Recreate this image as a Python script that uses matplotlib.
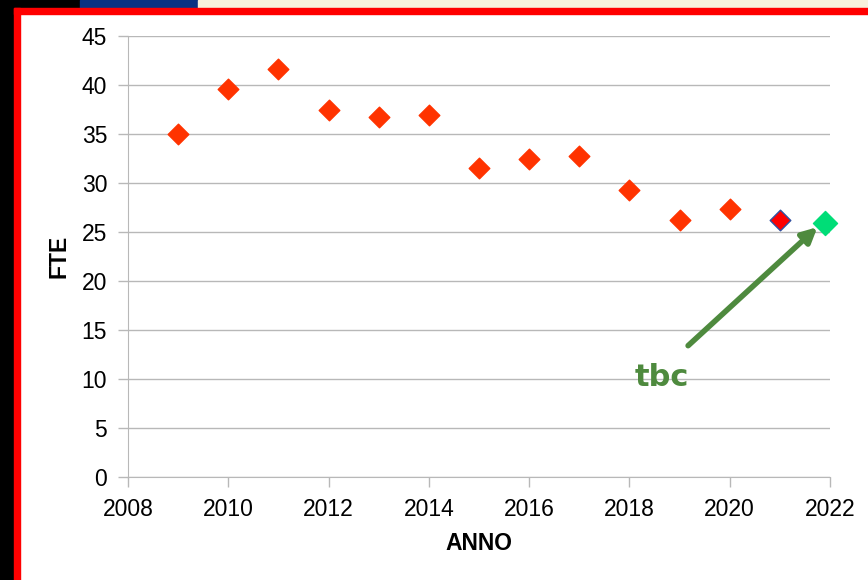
import matplotlib.pyplot as plt
from matplotlib.patches import Rectangle

# Data
years = [2009, 2010, 2011, 2012, 2013, 2014, 2015, 2016, 2017, 2018, 2019, 2020]
fte = [35.0, 39.6, 41.6, 37.4, 36.7, 36.9, 31.5, 32.4, 32.8, 29.3, 26.2, 27.3]
year_2021 = [2021]
fte_2021 = [26.2]
year_tbc = [2021.9]
fte_tbc = [25.9]
xticks = list(range(2008, 2023, 2))
yticks = list(range(0, 46, 5))

plt.rcParams['font.family'] = ['Liberation Sans', 'DejaVu Sans']

fig = plt.figure(figsize=(8.68, 5.80), dpi=100)
fig.patch.set_facecolor('white')

# Slide frame around the chart
W, H = 868, 580
def frame(x, y, w, h, color):
    fig.patches.append(Rectangle((x / W, 1 - (y + h) / H), w / W, h / H,
                                 transform=fig.transFigure, color=color, zorder=0))
frame(0, 0, 14, H, 'black')
frame(0, 0, 80, 8, 'black')
frame(80, 0, 118, 8, '#0a3282')
frame(198, 0, 670, 8, '#f8f1dc')
frame(14, 8, 854, 6, '#ff0000')
frame(14, 8, 6, H - 8, '#ff0000')

ax = fig.add_axes([128 / W, 1 - 477 / H, (830 - 128) / W, (477 - 36) / H])
ax.set_facecolor('white')

ax.scatter(years, fte, marker='D', s=110, color='#ff3300', edgecolors='#ff3300',
           zorder=3)
ax.scatter(year_2021, fte_2021, marker='D', s=110, color='#ff0000',
           edgecolors='#3050a0', linewidths=1, zorder=3)
ax.scatter(year_tbc, fte_tbc, marker='D', s=150, color='#00dd77', zorder=4,
           clip_on=False)

ax.annotate('', xy=(2021.75, 25.5), xytext=(2019.17, 13.4),
            arrowprops=dict(arrowstyle='-|>', color='#4e8a3e', lw=4,
                            mutation_scale=22, shrinkA=0, shrinkB=0), zorder=5)
ax.text(2018.65, 10.2, 'tbc', color='#4e8a3e', fontsize=22, fontweight='bold',
        family=['DejaVu Sans'], ha='center', va='center', zorder=5)

ax.set_xlim(2008, 2022)
ax.set_ylim(0, 45)
ax.set_xticks(xticks)
ax.set_yticks(yticks)
ax.grid(axis='y', color='#b8b8b8', lw=1)
ax.set_axisbelow(True)
for s in ['top', 'right']:
    ax.spines[s].set_visible(False)
for s in ['left', 'bottom']:
    ax.spines[s].set_color('#b8b8b8')
ax.tick_params(axis='both', colors='#b8b8b8', labelcolor='black', labelsize=16.5,
               length=7, width=1)
ax.tick_params(axis='x', pad=8)
ax.tick_params(axis='y', pad=8)

ax.set_xlabel('ANNO', fontsize=16.5, fontweight='bold', labelpad=8)
ax.set_ylabel('FTE', fontsize=16.5, fontweight='bold', labelpad=8)

fig.savefig('out.png', dpi=100)
